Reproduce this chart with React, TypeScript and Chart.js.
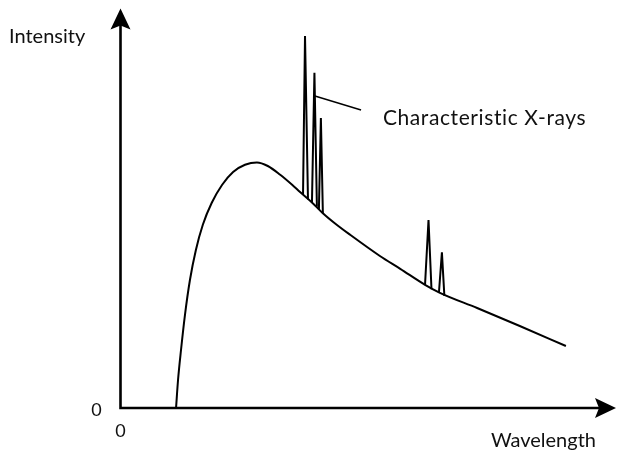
import React, { useEffect, useRef } from "react";
import { Chart, registerables } from "chart.js";

Chart.register(...registerables);

// Continuous (bremsstrahlung) spectrum, arbitrary units
const contWavelength = [
  11.3, 11.7, 12.3, 13.1, 14.1, 15.3, 16.7, 18.5, 20.6, 22.8, 25.2, 27.6, 29.8,
  32.3, 34.7, 36.3, 38.7, 40.9, 43.3, 46.4, 52.4, 56.5, 61.5, 64.5, 72.0, 80.6,
  89.9,
];
const contIntensity = [
  0, 7.0, 14.5, 23.3, 32.0, 39.5, 45.8, 51.3, 55.8, 59.0, 60.8, 61.4, 60.5,
  58.3, 55.8, 54.0, 51.4, 48.7, 46.2, 43.3, 38.0, 34.8, 30.8, 28.8, 25.0, 20.5,
  15.5,
];

// Characteristic lines: [left base, peak, right base]
const spikeWavelength = [
  [36.9, 37.3, 37.9],
  [38.7, 39.2, 39.7],
  [40.1, 40.5, 40.9],
  [61.5, 62.2, 62.8],
  [64.3, 64.9, 65.4],
];
const spikeIntensity = [
  [53.3, 93.0, 52.1],
  [51.4, 83.8, 50.3],
  [49.6, 72.5, 48.7],
  [30.8, 47.0, 29.7],
  [28.8, 38.9, 28.0],
];

// Leader line for the label
const leaderX = [39.3, 48.6];
const leaderY = [78.0, 74.5];
const labelText = "Characteristic X-rays";
const labelPos = [53.0, 70.8];

const xTitle = "Wavelength";
const yTitle = "Intensity";
const zeroLabel = "0";

const FONT = "Lato, 'Open Sans', sans-serif";

const axesPlugin = {
  id: "arrowAxes",
  afterDatasetsDraw(chart: any) {
    const { ctx, scales } = chart;
    const xs = scales.x;
    const ys = scales.y;
    const ox = xs.getPixelForValue(0) + 0.5;
    const oy = ys.getPixelForValue(0);
    const right = xs.getPixelForValue(100);
    const top = ys.getPixelForValue(100) + 0.5;
    ctx.save();
    ctx.strokeStyle = "#000";
    ctx.fillStyle = "#000";
    ctx.lineWidth = 2.6;
    ctx.lineCap = "butt";
    ctx.beginPath();
    ctx.moveTo(ox, top + 10);
    ctx.lineTo(ox, oy);
    ctx.lineTo(right - 10, oy);
    ctx.stroke();
    const L = 21, W = 10, N = 4;
    ctx.beginPath();
    ctx.moveTo(ox, top);
    ctx.lineTo(ox + W, top + L);
    ctx.lineTo(ox, top + L - N);
    ctx.lineTo(ox - W, top + L);
    ctx.closePath();
    ctx.fill();
    ctx.beginPath();
    ctx.moveTo(right, oy);
    ctx.lineTo(right - L, oy - W);
    ctx.lineTo(right - L + N, oy);
    ctx.lineTo(right - L, oy + W);
    ctx.closePath();
    ctx.fill();

    ctx.fillStyle = "#111";
    ctx.textBaseline = "alphabetic";
    ctx.font = `20px ${FONT}`;
    ctx.textAlign = "left";
    ctx.fillText(yTitle, 9, 43);
    ctx.save();
    ctx.font = `21px ${FONT}`;
    (ctx as any).letterSpacing = "0.6px";
    ctx.fillText(labelText, xs.getPixelForValue(labelPos[0]), ys.getPixelForValue(labelPos[1]));
    ctx.restore();
    ctx.textAlign = "right";
    ctx.fillText(xTitle, 596, 447);
    ctx.font = `18px ${FONT}`;
    ctx.textAlign = "center";
    ctx.fillText(zeroLabel, ox - 24, oy + 8);
    ctx.fillText(zeroLabel, ox, oy + 29);
    ctx.restore();
  },
};

export default function App() {
  const ref = useRef<HTMLCanvasElement>(null);
  useEffect(() => {
    const cont = contWavelength.map((x, i) => ({ x, y: contIntensity[i] }));
    const spikes = spikeWavelength.map((xsArr, s) => ({
      data: xsArr.map((x, i) => ({ x, y: spikeIntensity[s][i] })),
      borderColor: "#000",
      borderWidth: 2,
      pointRadius: 0,
      tension: 0,
      fill: false,
      borderJoinStyle: "miter" as const,
    }));
    const leader = leaderX.map((x, i) => ({ x, y: leaderY[i] }));
    const chart = new Chart(ref.current as HTMLCanvasElement, {
      type: "line",
      data: {
        datasets: [
          {
            data: cont,
            borderColor: "#000",
            borderWidth: 2,
            pointRadius: 0,
            cubicInterpolationMode: "monotone",
            fill: false,
            clip: false as any,
          },
          ...spikes,
          {
            data: leader,
            borderColor: "#000",
            borderWidth: 1.4,
            pointRadius: 0,
            tension: 0,
            fill: false,
          },
        ],
      },
      options: {
        responsive: false,
        animation: false,
        layout: { padding: { left: 120, right: 1, top: 8, bottom: 43 } },
        plugins: { legend: { display: false }, tooltip: { enabled: false } },
        scales: {
          x: { type: "linear", min: 0, max: 100, display: false },
          y: { type: "linear", min: 0, max: 100, display: false },
        },
      },
      plugins: [axesPlugin],
    });
    return () => chart.destroy();
  }, []);
  return (
    <div style={{ position: "fixed", left: 0, top: 0, width: 617, height: 451, background: "#fff" }}>
      <canvas ref={ref} width={617} height={451} />
    </div>
  );
}
